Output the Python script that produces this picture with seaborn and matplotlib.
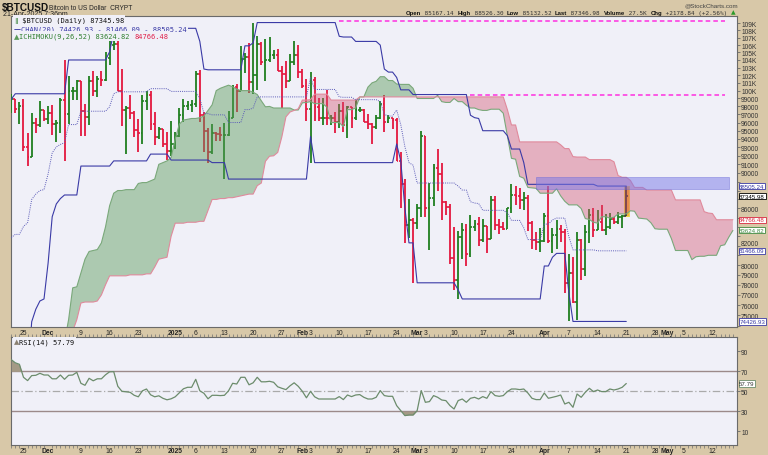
import numpy as np
import pandas as pd
import matplotlib
matplotlib.use("Agg")
import matplotlib.pyplot as plt
import matplotlib.dates as mdates
from matplotlib.ticker import FixedLocator, FixedFormatter, NullFormatter, NullLocator
from matplotlib.offsetbox import TextArea, HPacker, AnchoredOffsetbox
import seaborn as sns

# ---------------- data (prices in thousands of USD) ----------------
start_date = "2024-11-22"
prev_close = 98.3
opens = [98.3, 98.9, 97.7, 98.0, 93.1, 91.9, 95.9, 95.7, 97.5, 96.4,
         97.2, 95.8, 96.0, 98.8, 97.0, 99.9, 99.9, 101.2, 97.4, 96.7,
         101.2, 100.0, 101.5, 101.4, 104.3, 106.0, 106.1, 100.0, 97.5, 97.8,
         97.2, 95.1, 94.7, 98.7, 99.4, 95.8, 94.2, 95.2, 93.4, 92.6,
         93.4, 94.4, 96.9, 98.1, 98.2, 98.3, 102.1, 96.9, 95.0, 92.5,
         94.7, 94.6, 94.5, 94.5, 96.5, 100.5, 99.9, 104.1, 104.4, 101.1,
         102.0, 106.1, 103.7, 104.0, 104.7, 104.7, 102.6, 102.1, 101.3, 103.7,
         104.7, 102.4, 100.6, 97.7, 101.4, 97.9, 96.6, 96.6, 96.5, 96.5,
         96.1, 97.4, 95.7, 97.9, 96.6, 97.5, 97.6, 96.1, 95.8, 95.5,
         96.6, 98.3, 96.1, 96.6, 96.3, 91.4, 88.7, 84.2, 84.7, 84.4,
         86.0, 94.3, 86.1, 87.2, 90.6, 89.9, 86.7, 86.2, 80.7, 78.5,
         82.9, 83.7, 81.1, 84.0, 84.3, 82.6, 84.1, 82.7, 86.9, 84.2,
         84.0, 83.8, 86.1, 87.5, 87.4, 86.9, 87.2, 84.4, 82.6, 82.4,
         82.5, 85.2, 82.5, 83.1, 83.8, 83.5, 78.2, 79.2, 76.3, 82.6,
         79.6, 83.4, 85.3, 83.7, 84.5, 83.7, 84.0, 84.9, 84.5, 85.1,
         85.167]
highs = [99.6, 98.9, 98.6, 98.9, 94.7, 97.2, 96.6, 98.7, 97.5, 98.0,
         98.2, 96.3, 99.0, 104.0, 101.9, 100.5, 101.4, 101.2, 98.3, 101.9,
         102.5, 101.9, 102.6, 105.1, 107.8, 108.3, 106.5, 102.8, 98.1, 99.5,
         97.4, 96.4, 99.5, 99.9, 99.9, 97.3, 95.5, 95.2, 94.9, 96.2,
         94.9, 97.8, 98.9, 98.7, 98.8, 102.5, 102.7, 97.3, 95.3, 95.8,
         94.9, 95.4, 95.9, 97.4, 100.7, 100.8, 105.9, 104.9, 106.3, 109.1,
         107.2, 106.4, 106.8, 107.1, 105.3, 105.5, 103.2, 103.8, 104.8, 106.5,
         106.0, 102.8, 101.5, 102.4, 101.7, 99.0, 99.1, 100.1, 96.9, 97.3,
         98.3, 98.5, 98.1, 97.9, 98.8, 97.9, 97.7, 97.0, 96.0, 96.9,
         98.7, 99.5, 96.9, 96.6, 96.5, 92.5, 89.3, 87.0, 85.0, 86.5,
         95.0, 94.4, 88.9, 91.0, 92.8, 91.2, 86.8, 86.5, 84.0, 83.6,
         84.4, 84.3, 85.3, 84.7, 85.1, 84.8, 84.1, 87.4, 87.4, 84.8,
         84.5, 86.1, 88.7, 88.5, 88.3, 87.8, 87.5, 84.6, 83.5, 83.9,
         85.5, 88.5, 83.9, 84.7, 84.2, 83.8, 81.1, 80.8, 83.5, 82.7,
         84.2, 85.9, 86.0, 85.8, 86.4, 85.4, 85.5, 85.1, 85.6, 85.3,
         88.526]
lows = [97.2, 97.2, 95.8, 92.6, 90.8, 91.8, 94.7, 95.4, 96.2, 95.8,
        94.5, 93.6, 94.7, 91.4, 95.8, 98.8, 98.8, 94.4, 94.3, 95.7,
        99.3, 99.2, 100.6, 101.2, 103.3, 105.3, 100.0, 95.6, 92.2, 96.4,
        94.2, 92.4, 93.4, 97.6, 95.1, 93.3, 94.0, 93.0, 91.5, 92.0,
        92.8, 94.2, 96.1, 97.5, 97.3, 97.9, 96.1, 92.5, 91.2, 92.2,
        93.8, 93.7, 89.3, 94.3, 96.5, 97.3, 99.9, 102.3, 99.7, 99.6,
        100.1, 103.3, 101.3, 103.7, 104.1, 102.6, 97.8, 100.3, 101.3, 103.3,
        101.6, 100.3, 96.2, 91.2, 96.2, 96.2, 95.7, 95.7, 95.7, 94.7,
        95.3, 94.9, 94.1, 95.3, 96.3, 97.3, 96.1, 95.2, 93.4, 95.2,
        96.4, 94.9, 96.0, 95.2, 91.4, 86.1, 82.3, 82.8, 78.2, 83.8,
        85.1, 85.1, 81.5, 86.3, 87.9, 84.7, 85.3, 80.1, 77.5, 76.6,
        80.6, 79.9, 80.8, 83.6, 82.0, 82.4, 81.2, 82.7, 83.7, 83.2,
        83.7, 83.8, 85.5, 86.4, 85.9, 85.8, 83.6, 81.7, 81.6, 81.3,
        82.4, 82.3, 81.2, 81.7, 82.4, 77.2, 74.43, 76.2, 74.6, 78.5,
        78.9, 82.3, 82.9, 83.7, 83.6, 83.1, 83.8, 84.3, 84.3, 83.9,
        85.133]
closes = [98.9, 97.7, 98.0, 93.1, 91.9, 95.9, 95.7, 97.5, 96.4, 97.2,
          95.8, 96.0, 98.8, 97.0, 99.9, 99.9, 101.2, 97.4, 96.7, 101.2,
          100.0, 101.5, 101.4, 104.3, 106.0, 106.1, 100.0, 97.5, 97.8, 97.2,
          95.1, 94.7, 98.7, 99.4, 95.8, 94.2, 95.2, 93.4, 92.6, 93.4,
          94.4, 96.9, 98.1, 98.2, 98.3, 102.1, 96.9, 95.0, 92.5, 94.7,
          94.6, 94.5, 94.5, 96.5, 100.5, 99.9, 104.1, 104.4, 101.1, 102.0,
          106.1, 103.7, 104.0, 104.7, 104.7, 102.6, 102.1, 101.3, 103.7, 104.7,
          102.4, 100.6, 97.7, 101.4, 97.9, 96.6, 96.6, 96.5, 96.5, 96.1,
          97.4, 95.7, 97.9, 96.6, 97.5, 97.6, 96.1, 95.8, 95.5, 96.6,
          98.3, 96.1, 96.6, 96.3, 91.4, 88.7, 84.2, 84.7, 84.4, 86.0,
          94.3, 86.1, 87.2, 90.6, 89.9, 86.7, 86.2, 80.7, 78.5, 82.9,
          83.7, 81.1, 84.0, 84.3, 82.6, 84.1, 82.7, 86.9, 84.2, 84.0,
          83.8, 86.1, 87.5, 87.4, 86.9, 87.2, 84.4, 82.6, 82.4, 82.5,
          85.2, 82.5, 83.1, 83.8, 83.5, 78.2, 79.2, 76.3, 82.6, 79.6,
          83.4, 85.3, 83.7, 84.5, 83.7, 84.0, 84.9, 84.5, 85.1, 85.17,
          87.347]

rsi_vals = [81.7, 78.5, 77.0, 64.0, 60.7, 65.7, 66.0, 68.0, 66.3, 66.3,
            62.5, 62.5, 66.3, 62.0, 66.0, 66.3, 69.0, 58.0, 56.0, 63.0,
            60.5, 62.5, 62.5, 66.5, 69.5, 69.7, 55.0, 50.0, 49.5, 49.0,
            46.0, 44.5, 50.5, 52.3, 46.5, 44.5, 45.5, 43.0, 41.5, 42.5,
            44.5, 48.5, 52.5, 54.0, 54.0, 62.0, 50.5, 48.0, 42.5, 46.0,
            46.0, 45.7, 46.0, 50.5, 58.0, 57.3, 64.0, 64.0, 56.5, 58.5,
            64.0, 59.5, 59.5, 60.0, 59.0, 54.5, 53.0, 51.7, 55.5, 58.5,
            55.0, 50.0, 43.5, 50.0, 44.5, 42.3, 42.3, 42.3, 42.3, 42.3,
            44.7, 41.7, 46.3, 44.7, 46.3, 46.7, 44.0, 42.3, 42.3, 44.0,
            50.7, 45.7, 45.0, 45.0, 35.7, 30.7, 25.7, 26.3, 26.3, 30.7,
            50.7, 39.0, 39.7, 45.7, 44.0, 41.3, 40.7, 35.7, 32.3, 40.7,
            42.3, 39.0, 43.0, 44.0, 42.3, 44.7, 43.0, 49.7, 45.7, 45.0,
            45.7, 49.7, 52.3, 52.3, 51.7, 52.3, 48.3, 43.0, 41.7, 41.7,
            48.3, 43.0, 44.0, 45.0, 46.3, 37.3, 39.0, 34.0, 47.3, 44.0,
            49.0, 53.0, 49.7, 51.3, 49.7, 49.7, 52.3, 51.3, 52.3, 54.0,
            57.79]

chan_upper_vals = [98.9, 99.6, 104.0, 105.1, 107.8, 108.3, 106.5, 102.8, 102.7, 105.9,
                   106.3, 109.1, 107.2, 107.1, 106.5, 106.0, 102.8, 102.4, 101.7, 100.1,
                   99.5, 96.9, 96.6, 96.5, 95.0, 94.4, 92.8, 91.2, 88.7, 88.505]
chan_upper_runs = [1, 13, 10, 1, 1, 20, 1, 1, 9, 2,
                   1, 20, 1, 3, 6, 1, 1, 2, 1, 3,
                   14, 1, 1, 1, 6, 1, 3, 1, 17, 8]
chan_lower_vals = [66.8, 68.5, 69.3, 74.4, 75.6, 76.4, 76.6, 80.2, 85.1, 86.5,
                   87.1, 87.5, 90.8, 91.4, 92.2, 91.5, 91.2, 89.3, 94.3, 91.2,
                   93.4, 91.4, 86.1, 82.3, 78.2, 77.5, 76.6, 79.9, 80.8, 81.2,
                   77.2, 74.427]
chan_lower_runs = [3, 1, 1, 1, 1, 1, 1, 1, 1, 1,
                   1, 4, 8, 9, 5, 10, 4, 20, 1, 20,
                   1, 1, 1, 2, 10, 1, 20, 2, 1, 3,
                   1, 14]

# Ichimoku cloud (9,26,52), daily from 2024-12-05 to 2025-05-17
cloud_start = "2024-12-05"
span_a = [72.5, 74.6, 77.7, 77.8, 79.2, 80.6, 81.4, 81.5, 81.6, 82.3,
          84.0, 86.3, 87.7, 88.0, 88.0, 88.1, 88.1, 88.1, 88.8, 88.9,
          88.9, 89.1, 89.3, 91.0, 91.2, 91.4, 91.8,
          94.0, 95.8, 96.3, 96.4, 96.5, 96.5, 96.6, 96.8, 97.5, 98.2,
          100.0, 100.3, 100.5, 100.7, 100.5, 100.2, 100.0, 100.0, 100.0, 99.8,
          99.5, 98.7, 97.95, 98.0, 97.8, 97.8, 97.8, 97.8, 97.8, 97.55, 97.55,
          98.45, 98.5, 98.6, 98.35, 98.35, 98.35, 97.9, 96.0, 96.0, 96.0,
          95.5, 97.6, 97.6, 97.8, 99.2, 99.2, 100.45, 101.0, 101.2, 101.8,
          101.8, 101.3, 101.3, 100.85, 100.8, 100.8, 100.8, 100.3,
          99.0, 99.0, 99.0, 99.0, 99.0, 99.4, 98.6, 98.5, 98.5, 99.0,
          98.6, 98.6, 98.15, 97.8, 97.8, 97.6, 97.5, 97.5, 97.65, 97.65,
          97.65, 97.15, 94.4, 91.7, 91.6, 89.6, 89.4, 88.35, 88.3, 88.25, 87.7,
          87.7, 87.7, 87.7, 88.2, 87.4, 86.8, 86.4, 86.4, 86.4, 86.0,
          84.9, 84.8, 84.5, 84.4, 85.1, 85.1, 84.95, 85.05, 85.4, 85.4,
          85.4, 85.75, 85.7, 84.95, 84.9, 84.85, 84.45, 83.8, 83.75, 83.75,
          83.75, 82.75, 81.5, 81.5, 81.5, 81.5, 80.55, 80.85, 80.9, 80.9,
          81.0, 81.0, 81.0, 82.0, 82.1, 82.9, 83.62]
span_b = [71.0, 72.5, 73.5, 74.6, 76.2, 76.3, 76.3, 76.3, 76.4, 77.0,
          78.0, 78.9, 78.9, 78.9, 78.9, 78.9, 79.0, 79.0, 79.0, 79.0,
          79.1, 79.1, 79.8, 80.6, 80.7, 80.8, 83.0,
          84.4, 84.4, 84.4, 84.5, 84.5, 84.5, 84.6, 84.6, 85.8, 87.0,
          87.0, 87.1, 87.1, 87.2, 87.2, 87.3, 87.4, 87.5, 87.6, 87.6,
          88.55, 88.85, 91.35, 91.95, 92.0, 92.4, 94.25, 96.7, 97.3, 97.5, 97.7,
          98.8, 98.8, 98.85, 99.55, 99.55, 99.55, 99.55, 98.8, 98.8, 98.8,
          98.8, 98.8, 98.8, 98.8, 99.2, 99.2, 99.2, 99.2, 99.2, 99.2,
          99.2, 99.2, 99.2, 99.2, 99.2, 99.2, 99.2, 99.2,
          99.2, 99.2, 99.2, 99.2, 99.2, 99.2, 99.2, 99.2, 99.2, 99.2,
          99.2, 99.2, 99.2, 99.2, 99.2, 99.2, 99.2, 99.2, 99.2, 99.2,
          99.2, 99.2, 97.6, 95.7, 95.7, 93.65, 93.65, 93.65, 93.65, 93.65, 93.65,
          93.65, 93.65, 93.65, 93.65, 93.3, 92.85, 92.85, 91.9, 91.85, 91.85,
          91.85, 91.55, 91.55, 91.55, 91.55, 91.55, 91.55, 91.3, 89.7, 89.5,
          89.5, 89.15, 88.35, 88.35, 88.35, 88.05, 88.05, 88.05, 88.05, 88.05,
          88.05, 88.05, 86.95, 86.95, 86.95, 86.95, 86.95, 86.95, 86.95, 85.65,
          85.5, 85.45, 84.77, 84.77, 84.77, 84.77, 84.77]

# annotations drawn on the chart
zone_dates = ["2025-03-30", "2025-05-16"]
zone_prices = [88.15, 89.55]
res_top_dates = ["2025-02-10", "2025-05-15"]
res_top_level = 109.3
res_mid_dates = ["2025-03-14", "2025-05-15"]
res_mid_level = 99.5

tick_dates = ["2024-11-25", "2024-12-01", "2024-12-09", "2024-12-16", "2024-12-23",
              "2025-01-01", "2025-01-06", "2025-01-13", "2025-01-20", "2025-01-27",
              "2025-02-01", "2025-02-03", "2025-02-10", "2025-02-17", "2025-02-24",
              "2025-03-01", "2025-03-03", "2025-03-10", "2025-03-17", "2025-03-24",
              "2025-04-01", "2025-04-07", "2025-04-14", "2025-04-21", "2025-04-28",
              "2025-05-01", "2025-05-05", "2025-05-12"]
tick_labels = ["25", "Dec", "9", "16", "23", "2025", "6", "13", "20", "27",
               "Feb", "3", "10", "17", "24", "Mar", "3", "10", "17", "24",
               "Apr", "7", "14", "21", "28", "May", "5", "12"]
month_labels = ["Dec", "2025", "Feb", "Mar", "Apr", "May"]

price_tags = [(88.50524, "88505.24", "#3a3aa6"), (87.34598, "87345.98", "#000000"),
              (84.76648, "84766.48", "#d8283f"), (83.62482, "83624.82", "#3f8a3f"),
              (81.46609, "81466.09", "#3a3aa6"), (74.42693, "74426.93", "#3a3aa6")]

# ---------------- style ----------------
TAN = "#d8c8a8"
PANEL = "#f0f0f8"
GREEN = "#1f7f1f"
RED = "#e3173e"
BLUE = "#3a3aa6"
SPINE = "#6a6a6a"
SANS = "Liberation Sans"
MONO = "DejaVu Sans Mono"

sns.set_theme(style="white")
plt.rcParams["font.family"] = ["Liberation Sans", "DejaVu Sans"]

W, H = 768, 456
fig = plt.figure(figsize=(W / 100, H / 100), dpi=100, facecolor=TAN)


def frac_box(x0, y0, x1, y1):
    return [x0 / W, 1 - y1 / H, (x1 - x0) / W, (y1 - y0) / H]


ax = fig.add_axes(frac_box(10.5, 17, 737, 328))
axr = fig.add_axes(frac_box(10.5, 338, 737, 446))
for a in (ax, axr):
    a.set_facecolor(PANEL)
    for s in a.spines.values():
        s.set_color(SPINE)
        s.set_linewidth(0.8)

dates = pd.date_range(start_date, periods=len(closes), freq="D")
xd = mdates.date2num(dates.to_numpy())
ref = mdates.date2num(np.datetime64("2024-11-25"))
xlim = (ref - 3.17, ref + 174.0)

o = np.array(opens); h = np.array(highs); l = np.array(lows); c = np.array(closes)
prev = np.concatenate([[prev_close], c[:-1]])
cols = np.where(c >= prev, GREEN, RED).astype(object)
cols[-1] = "#3a3a3a"

# last-bar highlight
ax.fill_between([xd[-1] - 0.55, xd[-1] + 0.55], [l[-1]] * 2, [h[-1]] * 2,
                color="#f4b03a", edgecolor="#e8dc40", lw=0.6, zorder=2.5)
# OHLC bars
ax.vlines(xd, l, h, colors=list(cols), lw=1.3, zorder=3)
ax.hlines(o, xd - 0.45, xd, colors=list(cols), lw=1.2, zorder=3)
ax.hlines(c, xd, xd + 0.45, colors=list(cols), lw=1.2, zorder=3)

# Ichimoku cloud
cdates = pd.date_range(cloud_start, periods=len(span_a), freq="D")
cx = mdates.date2num(cdates.to_numpy())
sa = np.array(span_a); sb = np.array(span_b)
ax.fill_between(cx, sa, sb, where=sa >= sb, interpolate=True, color="#5a9a5a",
                alpha=0.45, lw=0, zorder=4)
ax.fill_between(cx, sa, sb, where=sa < sb, interpolate=True, color="#d2506e",
                alpha=0.4, lw=0, zorder=4)
sns.lineplot(x=cx, y=sa, ax=ax, color="#7aa87a", lw=0.8, zorder=4.5,
             estimator=None, sort=False, legend=False)
sns.lineplot(x=cx, y=sb, ax=ax, color="#e08a9c", lw=0.8, zorder=4.5,
             estimator=None, sort=False, legend=False)

# Donchian channel
up = np.repeat(chan_upper_vals, chan_upper_runs)
lo = np.repeat(chan_lower_vals, chan_lower_runs)
mid = (up + lo) / 2
sns.lineplot(x=xd, y=up, ax=ax, color=BLUE, lw=0.8, zorder=5, estimator=None, sort=False, legend=False)
sns.lineplot(x=xd, y=lo, ax=ax, color=BLUE, lw=0.8, zorder=5, estimator=None, sort=False, legend=False)
sns.lineplot(x=xd, y=mid, ax=ax, color="#5a5ab8", lw=0.7, ls=(0, (1, 1.2)), zorder=5,
             estimator=None, sort=False, legend=False)

# purple zone and magenta dashed levels
zx = mdates.date2num(pd.to_datetime(zone_dates).to_numpy())
ax.fill_between(zx, [zone_prices[0]] * 2, [zone_prices[1]] * 2, color="#7878e8",
                alpha=0.5, edgecolor="#6a6ad8", lw=0.6, zorder=5.5)
for dd, lvl in ((res_top_dates, res_top_level), (res_mid_dates, res_mid_level)):
    rx = mdates.date2num(pd.to_datetime(dd).to_numpy())
    ax.plot(rx, [lvl, lvl], color="#ff30e0", lw=1.1, ls=(0, (3, 2)), zorder=5.5)

# axes scales / ticks
ax.set_yscale("log")
ax.set_ylim(73.9, 110.02)
ax.set_xlim(*xlim)
axr.set_xlim(*xlim)
hidden = {74, 81, 82, 83, 84, 85, 87, 88, 89}
yt = list(range(74, 110))
ylab = [("%dK" % v if v >= 100 else ("" if v in hidden else str(v * 1000))) for v in yt]
ax.yaxis.tick_right()
ax.yaxis.set_major_locator(FixedLocator(yt))
ax.yaxis.set_major_formatter(FixedFormatter(ylab))
ax.yaxis.set_minor_locator(NullLocator())
ax.yaxis.set_minor_formatter(NullFormatter())
ax.tick_params(axis="y", which="major", right=True, left=False, direction="out",
               length=2, width=0.6, color=SPINE, pad=1, labelsize=4.8, labelcolor="#333333")
# the 82000 label sits just above the 81466.09 tag, as in the reference
ax.annotate("82000", xy=(1.0, 82.0), xycoords=ax.get_yaxis_transform(),
            xytext=(2.45, 1.9), textcoords="offset points", ha="left", va="center",
            fontsize=4.8, color="#333333", annotation_clip=False)

tx = mdates.date2num(pd.to_datetime(tick_dates).to_numpy())
day_ticks = np.arange(np.ceil(xlim[0]), xlim[1], 1.0)
for a in (ax, axr):
    a.set_xticks(tx)
    a.set_xticklabels(tick_labels)
    a.xaxis.set_minor_locator(FixedLocator(day_ticks))
    a.tick_params(axis="x", which="major", length=0, pad=1.2, labelsize=4.9, labelcolor="#222222")
    a.tick_params(axis="x", which="minor", direction="out", length=2, width=0.5, color="#707070")
    for t in a.get_xticklabels():
        t.set_family(SANS)
        if t.get_text() in month_labels:
            t.set_fontweight("bold")
axr.tick_params(axis="x", which="minor", top=True, bottom=True)
ax.set_xlabel(""); ax.set_ylabel("")

# price tags on the right
ytr = ax.get_yaxis_transform()
for val, txt, col in price_tags:
    ax.text(1.003, val, txt, transform=ytr, ha="left", va="center", fontsize=4.4,
            family=SANS, color=col, clip_on=False, zorder=20,
            bbox=dict(boxstyle="square,pad=0.1", fc="white", ec=col, lw=0.6))

# ---------------- RSI panel ----------------
r = np.array(rsi_vals)
axr.set_ylim(-3.7, 104.3)
axr.axhline(70, color="#9c8a8a", lw=1.0, zorder=2)
axr.axhline(30, color="#9c8a8a", lw=1.0, zorder=2)
axr.axhline(50, color="#aaaaaa", lw=0.9, ls=(0, (6, 2, 1, 2)), zorder=2)
axr.fill_between(xd, r, 70, where=r > 70, interpolate=True, color="#a49a86", lw=0, zorder=3)
axr.fill_between(xd, r, 30, where=r < 30, interpolate=True, color="#a49a86", lw=0, zorder=3)
sns.lineplot(x=xd, y=r, ax=axr, color="#6c8c6c", lw=0.9, zorder=4, estimator=None,
             sort=False, legend=False)
axr.yaxis.tick_right()
axr.set_yticks([10, 30, 50, 70, 90])
axr.set_yticklabels(["10", "30", "50", "70", "90"])
axr.tick_params(axis="y", right=True, left=False, direction="out", length=2, width=0.6,
                color=SPINE, pad=1, labelsize=4.8, labelcolor="#333333")
axr.set_xlabel(""); axr.set_ylabel("")
axr.text(1.003, r[-1], "57.79", transform=axr.get_yaxis_transform(), ha="left",
         va="center", fontsize=4.4, family=SANS, color="#333333", clip_on=False, zorder=20,
         bbox=dict(boxstyle="square,pad=0.1", fc="white", ec="#6c8c6c", lw=0.6))


# ---------------- texts ----------------
def rich(parts, x, y, loc="center left", bg=None, fs=5.0):
    kids = [TextArea(t, textprops=dict(fontsize=fs, color=col, fontweight=wt, family=fam))
            for t, col, wt, fam in parts]
    pack = HPacker(children=kids, align="baseline", pad=0, sep=0)
    box = AnchoredOffsetbox(loc=loc, child=pack, pad=0.1, borderpad=0,
                            frameon=bg is not None, bbox_to_anchor=(x / W, 1 - y / H),
                            bbox_transform=fig.transFigure)
    if bg is not None:
        box.patch.set_facecolor(bg)
        box.patch.set_edgecolor("none")
    box.set_zorder(30)
    fig.add_artist(box)


fig.text(2 / W, 1 - 10.5 / H, "$BTCUSD", fontsize=7.2, fontweight="bold", family=SANS,
         color="#111111", va="baseline")
fig.text(49 / W, 1 - 9.5 / H, "Bitcoin to US Dollar  CRYPT", fontsize=4.8, family=SANS,
         color="#222222", va="baseline")
fig.text(3 / W, 1 - 16.3 / H, "21-Apr-2025 7:36pm", fontsize=5, family=SANS,
         color="#222222", va="baseline")
fig.text(738 / W, 1 - 7 / H, "@StockCharts.com", fontsize=4.5, family=SANS,
         color="#444444", va="baseline", ha="right")
B, N = "bold", "normal"
rich([("Open", "#111111", B, SANS), (" 85167.14 ", "#333333", N, MONO),
      ("High", "#111111", B, SANS), (" 88526.30 ", "#333333", N, MONO),
      ("Low", "#111111", B, SANS), (" 85132.52 ", "#333333", N, MONO),
      ("Last", "#111111", B, SANS), (" 87346.98 ", "#333333", N, MONO),
      ("Volume", "#111111", B, SANS), (" 27.5K ", "#333333", N, MONO),
      ("Chg", "#111111", B, SANS), (" +2178.84 (+2.56%) ", "#333333", N, MONO),
      ("\u25b2", "#2a9a2a", N, "DejaVu Sans")],
     737, 13.2, loc="center right", fs=4.3)

rich([("\u2016", "#2a7a2a", N, "DejaVu Sans"), (" $BTCUSD (Daily) 87345.98", "#111111", N, MONO)],
     12.5, 21.5, bg=PANEL, fs=5.0)
rich([("\u2014", BLUE, B, "DejaVu Sans"), ("CHAN(20) 74426.93 - 81466.09 - 88505.24", BLUE, N, MONO)],
     12.5, 29.3, bg=PANEL, fs=5.0)
rich([("\u25b2", "#5a9a5a", N, "DejaVu Sans"), ("ICHIMOKU(9,26,52) 83624.82 ", "#2f7f2f", N, MONO),
      ("84766.48", "#e0204a", N, MONO)],
     12.5, 37.2, bg=PANEL, fs=5.0)
rich([("\u25b2", "#8a8070", N, "DejaVu Sans"), ("RSI(14) 57.79", "#111111", N, MONO)],
     12.5, 342.5, bg=PANEL, fs=5.0)

fig.savefig("out.png", dpi=100, facecolor=TAN)
